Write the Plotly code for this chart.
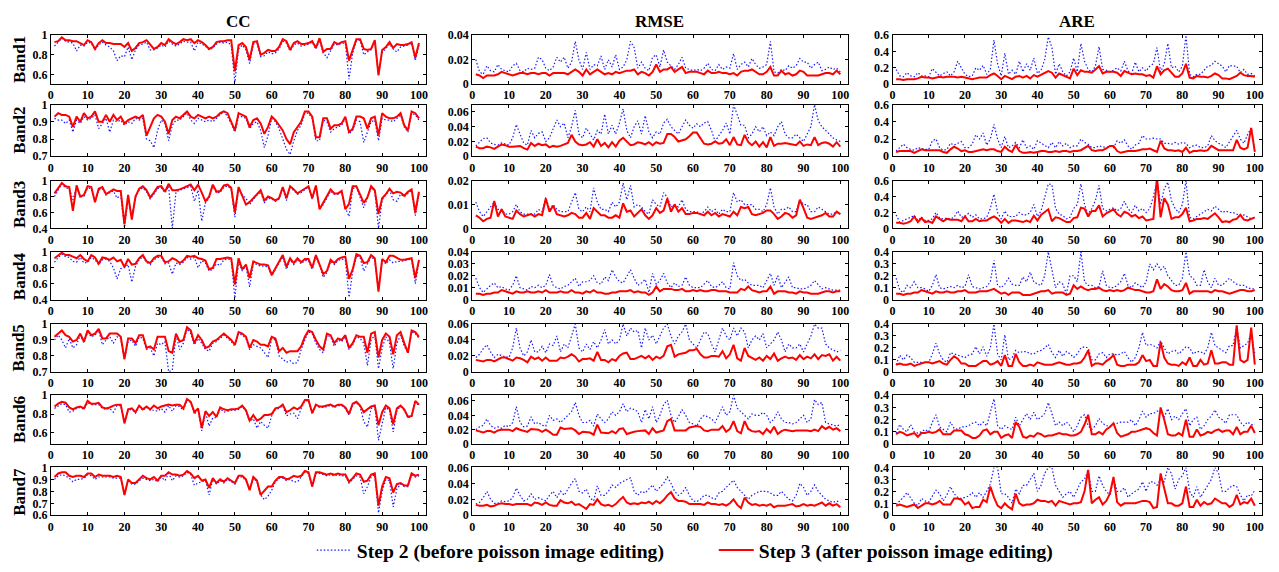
import plotly.graph_objects as go

FONT = "Liberation Serif, Times New Roman, serif"
x = list(range(1, 101))

column_titles = ["CC", "RMSE", "ARE"]
band_labels = ["Band1", "Band2", "Band3", "Band4", "Band5", "Band6", "Band7"]
legend_step2 = "Step 2 (before poisson image editing)"
legend_step3 = "Step 3 (after poisson image editing)"
x_ticks = list(range(0, 101, 10))

# ---------------- CC ----------------
cc1_s3 = [0.93,0.94,0.98,0.95,0.95,0.94,0.94,0.92,0.90,0.95,
          0.93,0.86,0.92,0.95,0.92,0.92,0.91,0.91,0.91,0.88,
          0.92,0.84,0.87,0.92,0.93,0.95,0.90,0.86,0.88,0.92,
          0.90,0.96,0.93,0.91,0.93,0.96,0.95,0.96,0.92,0.95,
          0.93,0.90,0.86,0.88,0.93,0.94,0.94,0.95,0.95,0.63,
          0.90,0.92,0.88,0.75,0.93,0.94,0.80,0.82,0.85,0.84,
          0.84,0.88,0.96,0.94,0.85,0.92,0.94,0.91,0.91,0.92,
          0.94,0.87,0.97,0.83,0.86,0.86,0.93,0.91,0.93,0.94,
          0.74,0.86,0.96,0.96,0.86,0.85,0.86,0.95,0.59,0.85,
          0.88,0.93,0.87,0.91,0.90,0.90,0.91,0.93,0.77,0.92]
cc1_s2 = [0.89,0.93,0.97,0.94,0.93,0.92,0.84,0.90,0.89,0.93,
          0.92,0.85,0.90,0.93,0.90,0.88,0.84,0.74,0.79,0.78,
          0.88,0.75,0.85,0.90,0.91,0.93,0.85,0.85,0.87,0.90,
          0.88,0.94,0.91,0.89,0.91,0.94,0.93,0.93,0.84,0.93,
          0.91,0.89,0.85,0.87,0.91,0.93,0.92,0.93,0.90,0.52,
          0.86,0.90,0.85,0.71,0.91,0.92,0.78,0.79,0.83,0.81,
          0.82,0.86,0.94,0.92,0.84,0.90,0.92,0.89,0.90,0.91,
          0.93,0.86,0.95,0.82,0.77,0.84,0.91,0.90,0.92,0.92,
          0.55,0.82,0.94,0.95,0.80,0.83,0.85,0.93,0.60,0.82,
          0.86,0.91,0.86,0.83,0.88,0.89,0.90,0.92,0.74,0.90]
cc2_s3 = [0.93,0.95,0.94,0.94,0.93,0.87,0.93,0.90,0.95,0.92,
          0.93,0.96,0.90,0.90,0.94,0.90,0.94,0.91,0.93,0.89,
          0.91,0.92,0.93,0.92,0.94,0.82,0.87,0.92,0.94,0.93,
          0.90,0.83,0.91,0.93,0.92,0.94,0.96,0.93,0.92,0.94,
          0.93,0.92,0.93,0.92,0.93,0.95,0.96,0.95,0.90,0.85,
          0.95,0.94,0.93,0.87,0.91,0.92,0.89,0.83,0.87,0.93,
          0.91,0.88,0.85,0.80,0.77,0.84,0.87,0.90,0.96,0.96,
          0.93,0.81,0.81,0.92,0.92,0.86,0.88,0.88,0.89,0.93,
          0.84,0.86,0.93,0.93,0.92,0.86,0.92,0.93,0.82,0.95,
          0.93,0.92,0.92,0.93,0.95,0.88,0.85,0.96,0.95,0.92]
cc2_s2 = [0.92,0.91,0.91,0.89,0.91,0.84,0.91,0.89,0.93,0.91,
          0.92,0.94,0.86,0.89,0.92,0.84,0.91,0.90,0.91,0.88,
          0.90,0.89,0.92,0.91,0.92,0.80,0.79,0.75,0.85,0.91,
          0.89,0.79,0.88,0.91,0.91,0.93,0.95,0.91,0.89,0.92,
          0.91,0.90,0.91,0.90,0.92,0.94,0.96,0.93,0.89,0.84,
          0.93,0.93,0.92,0.86,0.89,0.90,0.85,0.75,0.82,0.92,
          0.90,0.86,0.80,0.74,0.71,0.79,0.85,0.88,0.95,0.95,
          0.92,0.79,0.79,0.91,0.90,0.84,0.86,0.87,0.88,0.92,
          0.83,0.85,0.91,0.90,0.78,0.84,0.90,0.91,0.79,0.92,
          0.91,0.91,0.90,0.92,0.94,0.87,0.84,0.95,0.94,0.91]
cc3_s3 = [0.84,0.90,0.97,0.93,0.92,0.62,0.94,0.80,0.82,0.93,
          0.92,0.73,0.90,0.92,0.83,0.86,0.89,0.87,0.87,0.45,
          0.82,0.51,0.80,0.90,0.93,0.88,0.79,0.85,0.92,0.93,
          0.86,0.96,0.88,0.88,0.89,0.91,0.93,0.95,0.88,0.95,
          0.85,0.74,0.80,0.95,0.86,0.87,0.94,0.95,0.91,0.60,
          0.92,0.80,0.70,0.73,0.78,0.84,0.88,0.75,0.80,0.78,
          0.75,0.78,0.92,0.78,0.93,0.89,0.84,0.87,0.90,0.93,
          0.78,0.94,0.64,0.72,0.80,0.89,0.84,0.84,0.87,0.64,
          0.71,0.93,0.93,0.82,0.72,0.79,0.93,0.88,0.58,0.78,
          0.83,0.90,0.84,0.86,0.85,0.81,0.86,0.89,0.60,0.86]
cc3_s2 = [0.80,0.88,0.96,0.91,0.90,0.76,0.92,0.80,0.80,0.91,
          0.90,0.74,0.88,0.90,0.82,0.85,0.87,0.78,0.82,0.41,
          0.78,0.55,0.79,0.88,0.91,0.86,0.77,0.83,0.90,0.91,
          0.85,0.93,0.40,0.86,0.88,0.90,0.92,0.93,0.74,0.88,
          0.49,0.72,0.78,0.93,0.85,0.85,0.92,0.93,0.89,0.54,
          0.90,0.82,0.78,0.70,0.76,0.82,0.86,0.72,0.78,0.77,
          0.74,0.77,0.90,0.75,0.92,0.87,0.83,0.85,0.89,0.92,
          0.77,0.92,0.66,0.70,0.78,0.87,0.83,0.83,0.86,0.66,
          0.55,0.90,0.92,0.80,0.66,0.78,0.91,0.87,0.40,0.76,
          0.82,0.88,0.76,0.74,0.83,0.80,0.84,0.88,0.56,0.84]
cc4_s3 = [0.92,0.95,0.99,0.96,0.96,0.94,0.92,0.96,0.91,0.88,
          0.96,0.93,0.85,0.93,0.92,0.90,0.93,0.88,0.90,0.81,
          0.91,0.84,0.85,0.92,0.96,0.88,0.86,0.92,0.95,0.95,
          0.87,0.88,0.92,0.90,0.86,0.89,0.95,0.94,0.95,0.92,
          0.91,0.89,0.78,0.80,0.91,0.91,0.92,0.93,0.92,0.59,
          0.92,0.78,0.84,0.67,0.88,0.86,0.84,0.84,0.83,0.71,
          0.80,0.88,0.96,0.81,0.92,0.86,0.92,0.87,0.91,0.91,
          0.80,0.96,0.85,0.72,0.76,0.90,0.86,0.91,0.93,0.94,
          0.66,0.78,0.97,0.95,0.86,0.87,0.96,0.92,0.50,0.91,
          0.87,0.95,0.95,0.92,0.90,0.90,0.91,0.92,0.67,0.90]
cc4_s2 = [0.87,0.93,0.97,0.94,0.93,0.88,0.87,0.93,0.86,0.87,
          0.93,0.90,0.84,0.90,0.91,0.88,0.80,0.66,0.79,0.80,
          0.84,0.62,0.82,0.90,0.94,0.87,0.84,0.90,0.93,0.93,
          0.85,0.86,0.72,0.86,0.84,0.87,0.93,0.91,0.93,0.80,
          0.89,0.86,0.76,0.78,0.85,0.83,0.90,0.91,0.90,0.42,
          0.88,0.76,0.83,0.56,0.86,0.84,0.82,0.82,0.81,0.70,
          0.79,0.86,0.94,0.78,0.90,0.84,0.90,0.85,0.89,0.89,
          0.78,0.94,0.83,0.68,0.74,0.88,0.84,0.89,0.91,0.90,
          0.43,0.75,0.95,0.93,0.76,0.85,0.94,0.90,0.52,0.89,
          0.85,0.90,0.86,0.88,0.88,0.89,0.90,0.91,0.60,0.88]
cc5_s3 = [0.92,0.94,0.96,0.93,0.92,0.89,0.90,0.94,0.89,0.96,
          0.93,0.94,0.97,0.91,0.91,0.94,0.94,0.94,0.92,0.78,
          0.91,0.91,0.88,0.93,0.93,0.85,0.86,0.84,0.92,0.92,
          0.92,0.83,0.82,0.94,0.89,0.90,0.98,0.96,0.88,0.93,
          0.90,0.85,0.86,0.89,0.90,0.92,0.94,0.92,0.90,0.87,
          0.95,0.94,0.92,0.85,0.90,0.89,0.87,0.87,0.86,0.92,
          0.91,0.83,0.85,0.82,0.83,0.83,0.83,0.86,0.92,0.96,
          0.95,0.90,0.86,0.84,0.94,0.93,0.88,0.91,0.90,0.93,
          0.85,0.88,0.93,0.92,0.92,0.82,0.94,0.95,0.79,0.90,
          0.94,0.92,0.81,0.93,0.95,0.88,0.82,0.96,0.95,0.92]
cc5_s2 = [0.90,0.93,0.90,0.85,0.91,0.85,0.87,0.93,0.88,0.95,
          0.92,0.93,0.96,0.87,0.90,0.92,0.88,0.92,0.91,0.78,
          0.89,0.90,0.86,0.92,0.91,0.84,0.85,0.80,0.88,0.87,
          0.89,0.70,0.71,0.93,0.84,0.88,0.97,0.94,0.87,0.91,
          0.88,0.84,0.83,0.88,0.89,0.91,0.93,0.91,0.89,0.86,
          0.94,0.93,0.91,0.84,0.87,0.86,0.85,0.82,0.79,0.91,
          0.90,0.80,0.78,0.76,0.77,0.75,0.76,0.84,0.90,0.95,
          0.94,0.88,0.84,0.82,0.93,0.92,0.86,0.90,0.89,0.92,
          0.84,0.87,0.92,0.91,0.88,0.74,0.90,0.93,0.72,0.85,
          0.92,0.88,0.72,0.88,0.93,0.86,0.82,0.95,0.94,0.91]
cc6_s3 = [0.88,0.91,0.93,0.92,0.87,0.85,0.87,0.88,0.86,0.94,
          0.91,0.91,0.92,0.87,0.86,0.87,0.89,0.90,0.90,0.70,
          0.85,0.86,0.82,0.89,0.85,0.88,0.85,0.89,0.86,0.88,
          0.89,0.90,0.89,0.90,0.90,0.86,0.96,0.93,0.82,0.86,
          0.65,0.83,0.78,0.82,0.77,0.87,0.85,0.84,0.85,0.85,
          0.86,0.89,0.84,0.73,0.79,0.73,0.75,0.79,0.79,0.80,
          0.86,0.87,0.90,0.82,0.84,0.87,0.85,0.88,0.95,0.95,
          0.81,0.90,0.88,0.88,0.89,0.90,0.88,0.90,0.90,0.87,
          0.80,0.91,0.93,0.89,0.82,0.85,0.88,0.89,0.68,0.82,
          0.89,0.86,0.69,0.86,0.89,0.85,0.77,0.78,0.94,0.90]
cc6_s2 = [0.86,0.89,0.91,0.90,0.82,0.83,0.86,0.87,0.85,0.92,
          0.90,0.90,0.90,0.86,0.85,0.86,0.82,0.89,0.89,0.72,
          0.84,0.85,0.81,0.88,0.84,0.87,0.84,0.84,0.83,0.86,
          0.82,0.89,0.83,0.89,0.88,0.84,0.95,0.92,0.80,0.84,
          0.62,0.82,0.67,0.76,0.76,0.86,0.82,0.83,0.84,0.84,
          0.85,0.88,0.83,0.72,0.75,0.65,0.72,0.68,0.65,0.78,
          0.85,0.86,0.89,0.78,0.80,0.81,0.75,0.86,0.94,0.94,
          0.80,0.89,0.87,0.87,0.88,0.89,0.87,0.89,0.89,0.86,
          0.79,0.90,0.92,0.88,0.72,0.66,0.86,0.88,0.52,0.70,
          0.87,0.84,0.61,0.84,0.88,0.84,0.76,0.77,0.93,0.89]
cc7_s3 = [0.92,0.95,0.96,0.96,0.93,0.92,0.93,0.93,0.92,0.95,
          0.95,0.92,0.94,0.93,0.93,0.93,0.92,0.93,0.92,0.77,
          0.90,0.87,0.87,0.90,0.93,0.91,0.90,0.92,0.89,0.93,
          0.93,0.96,0.94,0.94,0.93,0.94,0.97,0.95,0.91,0.93,
          0.89,0.90,0.83,0.91,0.87,0.90,0.88,0.91,0.89,0.87,
          0.93,0.93,0.90,0.81,0.92,0.89,0.77,0.81,0.84,0.84,
          0.89,0.92,0.92,0.90,0.91,0.93,0.92,0.93,0.97,0.96,
          0.84,0.96,0.96,0.95,0.94,0.95,0.94,0.95,0.94,0.94,
          0.88,0.91,0.95,0.94,0.88,0.89,0.94,0.95,0.68,0.84,
          0.92,0.91,0.79,0.86,0.87,0.85,0.85,0.95,0.93,0.94]
cc7_s2 = [0.90,0.93,0.94,0.93,0.91,0.88,0.90,0.90,0.91,0.94,
          0.93,0.90,0.92,0.92,0.92,0.92,0.91,0.91,0.91,0.78,
          0.89,0.86,0.86,0.89,0.91,0.90,0.89,0.90,0.88,0.92,
          0.89,0.95,0.89,0.93,0.92,0.93,0.96,0.94,0.85,0.87,
          0.88,0.89,0.77,0.90,0.86,0.89,0.87,0.90,0.88,0.86,
          0.92,0.92,0.89,0.81,0.91,0.88,0.77,0.73,0.76,0.81,
          0.88,0.91,0.91,0.89,0.90,0.88,0.88,0.92,0.96,0.95,
          0.84,0.95,0.95,0.94,0.93,0.94,0.93,0.94,0.93,0.93,
          0.87,0.90,0.93,0.92,0.78,0.84,0.92,0.94,0.62,0.80,
          0.90,0.89,0.67,0.82,0.86,0.84,0.84,0.94,0.92,0.93]

# ---------------- RMSE ----------------
rmse1_s3 = [0.008,0.007,0.005,0.007,0.007,0.007,0.008,0.010,0.009,0.008,
            0.007,0.008,0.009,0.009,0.008,0.009,0.009,0.008,0.009,0.009,
            0.007,0.009,0.009,0.009,0.009,0.008,0.010,0.012,0.010,0.007,
            0.012,0.008,0.010,0.012,0.010,0.008,0.009,0.008,0.010,0.009,
            0.010,0.011,0.011,0.012,0.008,0.010,0.009,0.007,0.010,0.016,
            0.010,0.012,0.012,0.014,0.010,0.012,0.014,0.009,0.010,0.010,
            0.010,0.009,0.008,0.011,0.009,0.009,0.010,0.009,0.009,0.008,
            0.009,0.007,0.010,0.011,0.011,0.012,0.010,0.008,0.008,0.010,
            0.014,0.007,0.007,0.011,0.008,0.009,0.007,0.008,0.011,0.010,
            0.007,0.007,0.007,0.007,0.008,0.009,0.009,0.008,0.011,0.008]
rmse1_s2 = [0.020,0.010,0.008,0.015,0.011,0.010,0.016,0.012,0.011,0.010,
            0.015,0.017,0.011,0.010,0.013,0.012,0.013,0.022,0.020,0.013,
            0.011,0.014,0.022,0.018,0.022,0.013,0.018,0.035,0.020,0.012,
            0.026,0.012,0.016,0.015,0.023,0.012,0.020,0.014,0.024,0.012,
            0.014,0.020,0.035,0.030,0.013,0.018,0.013,0.011,0.022,0.024,
            0.014,0.028,0.018,0.015,0.012,0.016,0.022,0.013,0.012,0.011,
            0.012,0.011,0.013,0.017,0.012,0.011,0.016,0.012,0.014,0.013,
            0.025,0.012,0.016,0.018,0.014,0.021,0.016,0.013,0.014,0.016,
            0.035,0.010,0.009,0.012,0.011,0.015,0.013,0.015,0.021,0.018,
            0.018,0.013,0.016,0.018,0.011,0.012,0.014,0.012,0.013,0.010]
rmse2_s3 = [0.013,0.011,0.011,0.013,0.012,0.010,0.013,0.016,0.015,0.013,
            0.013,0.014,0.014,0.011,0.009,0.018,0.014,0.017,0.015,0.016,
            0.012,0.014,0.013,0.014,0.016,0.018,0.029,0.020,0.016,0.015,
            0.016,0.019,0.013,0.023,0.014,0.018,0.012,0.019,0.013,0.021,
            0.025,0.020,0.015,0.016,0.019,0.018,0.016,0.019,0.015,0.019,
            0.017,0.018,0.030,0.030,0.026,0.020,0.021,0.023,0.027,0.032,
            0.032,0.024,0.017,0.016,0.017,0.020,0.017,0.018,0.023,0.015,
            0.026,0.016,0.015,0.029,0.019,0.015,0.020,0.013,0.019,0.012,
            0.026,0.014,0.017,0.017,0.018,0.017,0.016,0.015,0.020,0.014,
            0.016,0.015,0.026,0.015,0.018,0.019,0.017,0.013,0.019,0.013]
rmse2_s2 = [0.014,0.019,0.024,0.025,0.018,0.016,0.015,0.018,0.016,0.015,
            0.025,0.043,0.030,0.018,0.015,0.035,0.025,0.031,0.033,0.020,
            0.025,0.038,0.049,0.040,0.045,0.025,0.040,0.062,0.030,0.025,
            0.038,0.030,0.022,0.035,0.030,0.057,0.030,0.042,0.030,0.045,
            0.064,0.035,0.025,0.040,0.048,0.030,0.055,0.033,0.025,0.033,
            0.030,0.045,0.050,0.040,0.035,0.030,0.040,0.049,0.042,0.038,
            0.044,0.040,0.045,0.047,0.035,0.020,0.028,0.035,0.045,0.030,
            0.070,0.055,0.042,0.042,0.025,0.030,0.040,0.033,0.040,0.028,
            0.033,0.028,0.040,0.047,0.030,0.025,0.025,0.030,0.025,0.020,
            0.030,0.040,0.070,0.048,0.040,0.035,0.030,0.025,0.022,0.020]
rmse3_s3 = [0.0055,0.0045,0.003,0.004,0.0045,0.0115,0.005,0.008,0.005,0.0045,
            0.004,0.0075,0.006,0.005,0.0055,0.006,0.005,0.006,0.0055,0.0125,
            0.007,0.0095,0.006,0.0055,0.005,0.0055,0.0065,0.006,0.0045,0.0045,
            0.0065,0.004,0.0085,0.007,0.0055,0.0055,0.0045,0.0045,0.0055,0.0045,
            0.0105,0.007,0.0075,0.005,0.0065,0.008,0.0055,0.004,0.0055,0.0085,
            0.0065,0.0075,0.0125,0.007,0.010,0.007,0.0085,0.006,0.006,0.0065,
            0.0065,0.006,0.0055,0.007,0.0055,0.0065,0.005,0.006,0.0055,0.005,
            0.007,0.0055,0.009,0.0085,0.009,0.006,0.0055,0.006,0.0065,0.0075,
            0.0075,0.006,0.004,0.005,0.0065,0.006,0.0045,0.0055,0.012,0.0085,
            0.0045,0.004,0.0045,0.005,0.0055,0.0065,0.005,0.005,0.007,0.006]
rmse3_s2 = [0.011,0.007,0.005,0.007,0.009,0.011,0.008,0.008,0.006,0.006,
            0.007,0.010,0.007,0.006,0.006,0.006,0.006,0.008,0.007,0.013,
            0.008,0.010,0.008,0.007,0.007,0.007,0.011,0.015,0.008,0.007,
            0.009,0.007,0.017,0.011,0.008,0.008,0.007,0.011,0.009,0.011,
            0.019,0.012,0.018,0.009,0.010,0.009,0.007,0.006,0.012,0.010,
            0.009,0.015,0.013,0.009,0.010,0.009,0.012,0.008,0.007,0.007,
            0.007,0.006,0.007,0.009,0.007,0.008,0.006,0.008,0.007,0.007,
            0.015,0.011,0.012,0.010,0.010,0.010,0.008,0.008,0.007,0.010,
            0.017,0.009,0.006,0.008,0.008,0.009,0.007,0.007,0.012,0.010,
            0.010,0.007,0.007,0.009,0.008,0.007,0.006,0.006,0.007,0.006]
rmse4_s3 = [0.005,0.005,0.004,0.005,0.005,0.006,0.006,0.008,0.007,0.006,
            0.005,0.007,0.006,0.006,0.007,0.006,0.006,0.007,0.006,0.008,
            0.006,0.006,0.006,0.007,0.006,0.006,0.008,0.006,0.006,0.005,
            0.007,0.006,0.008,0.006,0.006,0.005,0.005,0.006,0.006,0.007,
            0.007,0.007,0.008,0.006,0.007,0.006,0.006,0.004,0.006,0.011,
            0.007,0.009,0.009,0.009,0.008,0.008,0.009,0.007,0.007,0.008,
            0.007,0.008,0.007,0.007,0.008,0.008,0.007,0.007,0.007,0.006,
            0.006,0.006,0.009,0.008,0.011,0.008,0.007,0.006,0.007,0.007,
            0.011,0.005,0.007,0.007,0.007,0.006,0.006,0.005,0.007,0.006,
            0.006,0.005,0.005,0.005,0.006,0.007,0.007,0.006,0.007,0.007]
rmse4_s2 = [0.018,0.010,0.006,0.009,0.012,0.014,0.010,0.011,0.009,0.008,
            0.012,0.020,0.010,0.009,0.008,0.011,0.010,0.012,0.010,0.012,
            0.021,0.012,0.010,0.009,0.011,0.012,0.015,0.018,0.011,0.015,
            0.015,0.016,0.020,0.014,0.013,0.019,0.016,0.025,0.019,0.015,
            0.014,0.020,0.025,0.018,0.012,0.014,0.017,0.006,0.022,0.013,
            0.016,0.022,0.014,0.010,0.014,0.011,0.012,0.019,0.012,0.010,
            0.010,0.010,0.013,0.016,0.011,0.010,0.012,0.015,0.010,0.009,
            0.031,0.020,0.016,0.017,0.014,0.012,0.012,0.012,0.010,0.016,
            0.022,0.012,0.020,0.010,0.014,0.019,0.010,0.010,0.009,0.009,
            0.010,0.012,0.016,0.012,0.009,0.010,0.009,0.008,0.008,0.008]
rmse5_s3 = [0.015,0.014,0.013,0.015,0.015,0.013,0.016,0.018,0.018,0.016,
            0.014,0.018,0.017,0.015,0.012,0.019,0.016,0.018,0.014,0.018,
            0.014,0.014,0.014,0.018,0.017,0.019,0.022,0.019,0.013,0.016,
            0.016,0.017,0.014,0.025,0.015,0.015,0.012,0.016,0.014,0.020,
            0.023,0.024,0.016,0.016,0.018,0.020,0.017,0.020,0.015,0.019,
            0.017,0.020,0.032,0.034,0.019,0.022,0.023,0.024,0.027,0.027,
            0.029,0.022,0.018,0.018,0.020,0.020,0.019,0.026,0.017,0.022,
            0.034,0.017,0.014,0.030,0.020,0.017,0.015,0.018,0.014,0.020,
            0.016,0.023,0.014,0.017,0.019,0.017,0.018,0.015,0.021,0.016,
            0.019,0.017,0.022,0.016,0.021,0.020,0.022,0.014,0.019,0.014]
rmse5_s2 = [0.018,0.022,0.029,0.034,0.025,0.018,0.022,0.020,0.019,0.018,
            0.030,0.055,0.030,0.020,0.025,0.040,0.025,0.025,0.032,0.024,
            0.035,0.033,0.045,0.025,0.035,0.030,0.045,0.060,0.030,0.025,
            0.035,0.028,0.038,0.030,0.040,0.053,0.035,0.040,0.035,0.040,
            0.060,0.045,0.055,0.050,0.052,0.030,0.055,0.040,0.046,0.035,
            0.045,0.055,0.060,0.045,0.035,0.045,0.050,0.060,0.040,0.035,
            0.030,0.040,0.050,0.048,0.035,0.025,0.040,0.055,0.045,0.040,
            0.055,0.045,0.055,0.050,0.030,0.040,0.045,0.040,0.048,0.030,
            0.035,0.040,0.050,0.040,0.025,0.035,0.030,0.030,0.035,0.025,
            0.035,0.045,0.060,0.055,0.055,0.035,0.030,0.028,0.025,0.027]
rmse6_s3 = [0.019,0.018,0.016,0.018,0.018,0.016,0.019,0.020,0.020,0.020,
            0.018,0.022,0.020,0.019,0.017,0.021,0.020,0.020,0.017,0.020,
            0.017,0.013,0.013,0.023,0.021,0.021,0.022,0.019,0.014,0.017,
            0.017,0.016,0.013,0.027,0.016,0.015,0.015,0.018,0.015,0.021,
            0.022,0.014,0.016,0.017,0.018,0.018,0.019,0.014,0.022,0.016,
            0.018,0.019,0.032,0.035,0.019,0.019,0.020,0.019,0.023,0.024,
            0.025,0.024,0.019,0.018,0.020,0.020,0.020,0.025,0.017,0.021,
            0.032,0.018,0.015,0.032,0.021,0.018,0.017,0.018,0.014,0.021,
            0.016,0.024,0.014,0.018,0.020,0.019,0.018,0.019,0.019,0.020,
            0.019,0.018,0.020,0.018,0.025,0.021,0.024,0.020,0.022,0.018]
rmse6_s2 = [0.020,0.024,0.026,0.035,0.026,0.022,0.024,0.022,0.026,0.024,
            0.030,0.052,0.030,0.024,0.025,0.038,0.028,0.030,0.026,0.025,
            0.040,0.033,0.035,0.030,0.035,0.040,0.045,0.058,0.040,0.030,
            0.030,0.033,0.025,0.042,0.035,0.030,0.035,0.045,0.040,0.045,
            0.056,0.045,0.050,0.048,0.045,0.030,0.048,0.035,0.052,0.030,
            0.040,0.055,0.061,0.040,0.030,0.038,0.048,0.040,0.030,0.028,
            0.025,0.035,0.040,0.038,0.035,0.030,0.040,0.052,0.040,0.045,
            0.068,0.050,0.045,0.040,0.035,0.042,0.040,0.040,0.044,0.040,
            0.030,0.035,0.045,0.035,0.030,0.030,0.028,0.030,0.035,0.040,
            0.030,0.035,0.062,0.055,0.058,0.030,0.028,0.027,0.025,0.027]
rmse7_s3 = [0.013,0.012,0.012,0.013,0.011,0.012,0.014,0.015,0.014,0.014,
            0.013,0.014,0.014,0.014,0.014,0.012,0.016,0.015,0.013,0.016,
            0.013,0.012,0.012,0.019,0.016,0.015,0.017,0.013,0.014,0.011,
            0.008,0.014,0.013,0.020,0.014,0.012,0.013,0.011,0.014,0.019,
            0.023,0.016,0.014,0.015,0.014,0.016,0.015,0.017,0.014,0.018,
            0.015,0.019,0.025,0.029,0.021,0.018,0.018,0.017,0.014,0.014,
            0.014,0.014,0.013,0.016,0.014,0.014,0.013,0.014,0.012,0.015,
            0.020,0.013,0.009,0.022,0.016,0.013,0.014,0.012,0.013,0.012,
            0.014,0.010,0.012,0.012,0.012,0.013,0.014,0.011,0.012,0.014,
            0.012,0.013,0.012,0.014,0.016,0.012,0.015,0.012,0.014,0.010]
rmse7_s2 = [0.014,0.016,0.022,0.030,0.020,0.015,0.015,0.018,0.017,0.018,
            0.022,0.034,0.025,0.018,0.020,0.027,0.020,0.022,0.020,0.018,
            0.025,0.030,0.022,0.030,0.025,0.033,0.040,0.046,0.030,0.028,
            0.033,0.022,0.018,0.037,0.025,0.025,0.030,0.038,0.035,0.040,
            0.042,0.045,0.047,0.030,0.025,0.030,0.028,0.033,0.038,0.030,
            0.035,0.040,0.048,0.040,0.030,0.025,0.028,0.035,0.025,0.018,
            0.017,0.020,0.025,0.025,0.022,0.020,0.028,0.030,0.035,0.040,
            0.044,0.035,0.030,0.025,0.020,0.025,0.028,0.030,0.030,0.030,
            0.028,0.025,0.025,0.030,0.025,0.020,0.018,0.025,0.040,0.035,
            0.025,0.030,0.038,0.030,0.025,0.020,0.018,0.016,0.018,0.016]

# ---------------- ARE ----------------
are1_s3 = [0.06,0.06,0.05,0.06,0.06,0.06,0.07,0.09,0.08,0.08,
           0.07,0.08,0.09,0.08,0.09,0.09,0.09,0.08,0.09,0.08,
           0.07,0.06,0.07,0.08,0.08,0.08,0.11,0.13,0.10,0.06,
           0.10,0.08,0.06,0.09,0.10,0.08,0.10,0.07,0.11,0.09,
           0.11,0.14,0.16,0.14,0.08,0.13,0.11,0.08,0.07,0.19,
           0.11,0.17,0.15,0.15,0.14,0.18,0.22,0.13,0.15,0.15,
           0.15,0.14,0.10,0.16,0.14,0.12,0.13,0.12,0.12,0.10,
           0.11,0.08,0.22,0.12,0.17,0.19,0.14,0.09,0.09,0.13,
           0.25,0.08,0.07,0.10,0.09,0.09,0.08,0.10,0.13,0.11,
           0.07,0.07,0.06,0.08,0.10,0.14,0.11,0.10,0.10,0.09]
are1_s2 = [0.18,0.10,0.09,0.14,0.10,0.09,0.14,0.10,0.10,0.09,
           0.19,0.15,0.10,0.13,0.15,0.10,0.15,0.28,0.20,0.12,
           0.09,0.10,0.20,0.17,0.23,0.12,0.18,0.54,0.25,0.10,
           0.38,0.12,0.17,0.12,0.28,0.15,0.25,0.17,0.32,0.13,
           0.17,0.30,0.58,0.45,0.12,0.25,0.15,0.10,0.15,0.32,
           0.15,0.50,0.28,0.18,0.15,0.22,0.46,0.18,0.17,0.15,
           0.17,0.20,0.16,0.28,0.16,0.13,0.27,0.15,0.20,0.16,
           0.22,0.25,0.45,0.15,0.25,0.50,0.20,0.22,0.15,0.22,
           0.60,0.12,0.09,0.12,0.12,0.17,0.22,0.23,0.28,0.25,
           0.22,0.15,0.23,0.22,0.22,0.14,0.18,0.12,0.13,0.10]
are2_s3 = [0.05,0.06,0.06,0.06,0.06,0.04,0.06,0.08,0.07,0.07,
           0.07,0.07,0.07,0.05,0.04,0.08,0.11,0.09,0.06,0.07,
           0.05,0.05,0.06,0.07,0.08,0.07,0.08,0.08,0.06,0.05,
           0.11,0.07,0.05,0.13,0.06,0.04,0.04,0.05,0.04,0.05,
           0.06,0.06,0.05,0.05,0.06,0.05,0.06,0.06,0.05,0.06,
           0.06,0.07,0.10,0.12,0.07,0.06,0.07,0.07,0.09,0.12,
           0.12,0.06,0.04,0.05,0.06,0.06,0.06,0.07,0.08,0.08,
           0.09,0.07,0.05,0.18,0.09,0.07,0.07,0.06,0.07,0.05,
           0.10,0.04,0.06,0.06,0.07,0.06,0.07,0.12,0.09,0.07,
           0.07,0.07,0.07,0.07,0.19,0.10,0.08,0.10,0.33,0.05]
are2_s2 = [0.06,0.10,0.14,0.10,0.08,0.07,0.10,0.09,0.08,0.08,
           0.18,0.20,0.10,0.07,0.08,0.15,0.13,0.15,0.17,0.10,
           0.10,0.14,0.25,0.20,0.27,0.13,0.20,0.37,0.20,0.10,
           0.23,0.10,0.12,0.16,0.10,0.19,0.10,0.12,0.08,0.18,
           0.15,0.12,0.10,0.16,0.10,0.17,0.12,0.15,0.10,0.12,
           0.12,0.20,0.16,0.14,0.10,0.10,0.12,0.11,0.10,0.12,
           0.10,0.18,0.15,0.19,0.12,0.08,0.13,0.15,0.24,0.20,
           0.20,0.21,0.20,0.20,0.15,0.15,0.14,0.16,0.14,0.16,
           0.15,0.10,0.12,0.13,0.10,0.10,0.12,0.24,0.18,0.15,
           0.13,0.10,0.17,0.23,0.30,0.20,0.15,0.25,0.33,0.06]
are3_s3 = [0.07,0.07,0.06,0.07,0.09,0.15,0.08,0.13,0.08,0.09,
           0.07,0.15,0.12,0.09,0.12,0.11,0.11,0.11,0.09,0.15,
           0.09,0.09,0.12,0.09,0.10,0.10,0.13,0.15,0.12,0.07,
           0.12,0.07,0.10,0.10,0.09,0.08,0.10,0.08,0.16,0.10,
           0.17,0.21,0.24,0.09,0.14,0.13,0.11,0.08,0.08,0.13,
           0.14,0.26,0.25,0.15,0.22,0.22,0.29,0.15,0.19,0.21,
           0.24,0.18,0.15,0.21,0.19,0.15,0.17,0.13,0.15,0.10,
           0.11,0.12,0.64,0.14,0.38,0.30,0.12,0.14,0.14,0.18,
           0.26,0.09,0.10,0.12,0.12,0.13,0.12,0.15,0.19,0.14,
           0.08,0.09,0.08,0.11,0.12,0.17,0.11,0.10,0.12,0.14]
are3_s2 = [0.17,0.08,0.10,0.12,0.13,0.16,0.10,0.14,0.10,0.10,
           0.12,0.20,0.13,0.12,0.13,0.12,0.14,0.22,0.14,0.15,
           0.19,0.14,0.17,0.12,0.12,0.14,0.25,0.43,0.20,0.12,
           0.22,0.15,0.15,0.15,0.20,0.17,0.17,0.20,0.30,0.15,
           0.22,0.40,0.56,0.55,0.25,0.18,0.16,0.12,0.14,0.25,
           0.30,0.56,0.30,0.18,0.25,0.35,0.54,0.25,0.22,0.24,
           0.26,0.22,0.25,0.34,0.25,0.20,0.29,0.22,0.25,0.20,
           0.25,0.40,0.60,0.30,0.50,0.58,0.35,0.25,0.20,0.30,
           0.60,0.14,0.12,0.15,0.18,0.20,0.24,0.22,0.28,0.24,
           0.20,0.22,0.20,0.20,0.18,0.16,0.17,0.14,0.12,0.13]
are4_s3 = [0.05,0.05,0.04,0.05,0.05,0.06,0.06,0.08,0.07,0.06,
           0.05,0.07,0.06,0.06,0.07,0.06,0.06,0.07,0.07,0.08,
           0.06,0.06,0.06,0.07,0.07,0.07,0.08,0.09,0.07,0.05,
           0.06,0.04,0.06,0.06,0.06,0.04,0.04,0.04,0.05,0.06,
           0.07,0.07,0.08,0.05,0.06,0.06,0.06,0.04,0.05,0.12,
           0.09,0.11,0.09,0.08,0.09,0.09,0.10,0.08,0.07,0.08,
           0.07,0.08,0.07,0.08,0.10,0.09,0.08,0.08,0.07,0.06,
           0.06,0.07,0.17,0.09,0.13,0.11,0.08,0.07,0.07,0.08,
           0.14,0.05,0.07,0.07,0.07,0.07,0.07,0.06,0.08,0.07,
           0.07,0.06,0.05,0.06,0.07,0.08,0.08,0.07,0.07,0.08]
are4_s2 = [0.18,0.08,0.06,0.12,0.10,0.15,0.10,0.10,0.09,0.07,
           0.12,0.21,0.10,0.09,0.10,0.11,0.10,0.12,0.10,0.11,
           0.21,0.11,0.10,0.09,0.10,0.11,0.15,0.33,0.12,0.10,
           0.13,0.18,0.13,0.12,0.12,0.19,0.15,0.23,0.15,0.13,
           0.12,0.20,0.40,0.25,0.10,0.15,0.13,0.05,0.20,0.20,
           0.15,0.40,0.15,0.12,0.12,0.10,0.11,0.24,0.12,0.10,
           0.10,0.12,0.15,0.22,0.12,0.10,0.14,0.12,0.10,0.15,
           0.30,0.25,0.30,0.25,0.28,0.20,0.16,0.12,0.12,0.18,
           0.40,0.20,0.18,0.12,0.12,0.25,0.15,0.10,0.18,0.12,
           0.12,0.15,0.18,0.15,0.13,0.12,0.12,0.10,0.09,0.09]
are5_s3 = [0.06,0.07,0.06,0.06,0.07,0.05,0.06,0.07,0.08,0.08,
           0.07,0.08,0.09,0.07,0.06,0.10,0.13,0.11,0.07,0.07,
           0.05,0.05,0.05,0.07,0.09,0.09,0.06,0.07,0.09,0.05,
           0.14,0.05,0.05,0.15,0.08,0.05,0.05,0.06,0.05,0.08,
           0.07,0.06,0.06,0.06,0.07,0.08,0.07,0.06,0.06,0.07,
           0.07,0.08,0.12,0.18,0.05,0.07,0.07,0.06,0.09,0.11,
           0.14,0.06,0.05,0.05,0.06,0.06,0.06,0.08,0.14,0.09,
           0.10,0.05,0.05,0.25,0.12,0.07,0.06,0.06,0.05,0.08,
           0.06,0.12,0.05,0.05,0.10,0.06,0.07,0.18,0.07,0.07,
           0.08,0.08,0.06,0.06,0.39,0.10,0.08,0.10,0.37,0.06]
are5_s2 = [0.06,0.14,0.10,0.14,0.12,0.08,0.08,0.08,0.08,0.08,
           0.15,0.24,0.15,0.10,0.08,0.16,0.15,0.14,0.13,0.12,
           0.14,0.15,0.21,0.15,0.21,0.13,0.20,0.40,0.15,0.10,
           0.31,0.10,0.12,0.18,0.16,0.17,0.17,0.15,0.15,0.17,
           0.18,0.20,0.23,0.16,0.12,0.18,0.13,0.17,0.15,0.12,
           0.15,0.20,0.21,0.20,0.10,0.10,0.15,0.16,0.12,0.15,
           0.15,0.14,0.15,0.17,0.12,0.08,0.12,0.20,0.33,0.22,
           0.23,0.22,0.20,0.26,0.20,0.15,0.17,0.18,0.15,0.18,
           0.21,0.20,0.15,0.17,0.17,0.15,0.20,0.33,0.22,0.20,
           0.18,0.16,0.22,0.22,0.38,0.20,0.22,0.24,0.32,0.15]
are6_s3 = [0.08,0.10,0.09,0.07,0.08,0.09,0.06,0.09,0.09,0.10,
           0.09,0.10,0.12,0.08,0.08,0.08,0.11,0.11,0.11,0.08,
           0.07,0.05,0.05,0.07,0.11,0.12,0.08,0.10,0.10,0.05,
           0.07,0.08,0.05,0.18,0.14,0.06,0.05,0.07,0.06,0.09,
           0.08,0.06,0.07,0.07,0.08,0.09,0.08,0.08,0.07,0.07,
           0.08,0.10,0.16,0.24,0.08,0.08,0.10,0.08,0.12,0.14,
           0.17,0.09,0.06,0.07,0.08,0.10,0.10,0.11,0.12,0.13,
           0.12,0.09,0.07,0.30,0.20,0.08,0.07,0.07,0.09,0.07,
           0.20,0.06,0.06,0.12,0.07,0.08,0.10,0.09,0.11,0.12,
           0.10,0.11,0.11,0.08,0.14,0.08,0.10,0.10,0.15,0.09]
are6_s2 = [0.09,0.16,0.12,0.10,0.16,0.10,0.09,0.10,0.12,0.10,
           0.18,0.24,0.14,0.12,0.10,0.18,0.13,0.12,0.14,0.14,
           0.15,0.17,0.18,0.15,0.18,0.15,0.25,0.37,0.15,0.12,
           0.15,0.13,0.12,0.22,0.15,0.20,0.25,0.20,0.26,0.20,
           0.22,0.25,0.34,0.25,0.15,0.18,0.15,0.18,0.15,0.10,
           0.15,0.22,0.24,0.15,0.12,0.15,0.21,0.17,0.15,0.15,
           0.16,0.17,0.18,0.18,0.18,0.20,0.15,0.20,0.27,0.22,
           0.25,0.25,0.27,0.27,0.22,0.29,0.20,0.23,0.20,0.25,
           0.29,0.15,0.20,0.22,0.12,0.15,0.20,0.23,0.28,0.22,
           0.20,0.17,0.24,0.24,0.24,0.18,0.15,0.18,0.16,0.16]
are7_s3 = [0.08,0.09,0.08,0.07,0.08,0.09,0.06,0.08,0.10,0.10,
           0.09,0.10,0.12,0.09,0.09,0.09,0.14,0.14,0.13,0.09,
           0.11,0.06,0.07,0.07,0.13,0.11,0.24,0.15,0.08,0.06,
           0.10,0.07,0.05,0.18,0.10,0.08,0.09,0.09,0.10,0.13,
           0.12,0.12,0.11,0.12,0.08,0.12,0.11,0.10,0.09,0.10,
           0.10,0.11,0.20,0.38,0.10,0.13,0.15,0.09,0.12,0.18,
           0.32,0.11,0.08,0.10,0.10,0.10,0.10,0.11,0.12,0.12,
           0.11,0.06,0.07,0.35,0.22,0.10,0.10,0.08,0.08,0.10,
           0.24,0.07,0.07,0.13,0.08,0.11,0.09,0.10,0.14,0.12,
           0.10,0.10,0.07,0.09,0.17,0.09,0.11,0.10,0.14,0.08]
are7_s2 = [0.09,0.12,0.15,0.19,0.15,0.10,0.08,0.14,0.12,0.11,
           0.16,0.21,0.18,0.12,0.17,0.24,0.18,0.15,0.14,0.15,
           0.16,0.19,0.15,0.19,0.15,0.20,0.26,0.40,0.40,0.18,
           0.18,0.15,0.10,0.22,0.18,0.25,0.25,0.30,0.35,0.20,
           0.25,0.35,0.40,0.40,0.25,0.20,0.15,0.18,0.20,0.15,
           0.22,0.28,0.30,0.38,0.20,0.20,0.33,0.25,0.20,0.17,
           0.30,0.20,0.20,0.23,0.15,0.18,0.20,0.22,0.28,0.20,
           0.28,0.28,0.25,0.30,0.28,0.40,0.35,0.22,0.30,0.33,
           0.40,0.20,0.15,0.24,0.15,0.20,0.25,0.30,0.40,0.35,
           0.20,0.20,0.23,0.25,0.24,0.17,0.12,0.17,0.16,0.21]

cc_step2 = [cc1_s2, cc2_s2, cc3_s2, cc4_s2, cc5_s2, cc6_s2, cc7_s2]
cc_step3 = [cc1_s3, cc2_s3, cc3_s3, cc4_s3, cc5_s3, cc6_s3, cc7_s3]
rmse_step2 = [rmse1_s2, rmse2_s2, rmse3_s2, rmse4_s2, rmse5_s2, rmse6_s2, rmse7_s2]
rmse_step3 = [rmse1_s3, rmse2_s3, rmse3_s3, rmse4_s3, rmse5_s3, rmse6_s3, rmse7_s3]
are_step2 = [are1_s2, are2_s2, are3_s2, are4_s2, are5_s2, are6_s2, are7_s2]
are_step3 = [are1_s3, are2_s3, are3_s3, are4_s3, are5_s3, are6_s3, are7_s3]

cc_ranges = [(0.5, 1), (0.7, 1), (0.4, 1), (0.4, 1), (0.7, 1), (0.48, 1), (0.6, 1)]
cc_ticks = [[0.6, 0.8, 1], [0.7, 0.8, 0.9, 1], [0.4, 0.6, 0.8, 1], [0.4, 0.6, 0.8, 1],
            [0.7, 0.8, 0.9, 1], [0.6, 0.8, 1], [0.6, 0.7, 0.8, 0.9, 1]]
rmse_ranges = [(0, 0.04), (0, 0.07), (0, 0.02), (0, 0.04), (0, 0.06), (0, 0.068), (0, 0.06)]
rmse_ticks = [[0, 0.02, 0.04], [0, 0.02, 0.04, 0.06], [0, 0.01, 0.02], [0, 0.01, 0.02, 0.03, 0.04],
              [0, 0.02, 0.04, 0.06], [0, 0.02, 0.04, 0.06], [0, 0.02, 0.04, 0.06]]
are_ranges = [(0, 0.6), (0, 0.6), (0, 0.6), (0, 0.4), (0, 0.4), (0, 0.4), (0, 0.4)]
are_ticks = [[0, 0.2, 0.4, 0.6]] * 3 + [[0, 0.1, 0.2, 0.3, 0.4]] * 4

columns = [(cc_step2, cc_step3, cc_ranges, cc_ticks),
           (rmse_step2, rmse_step3, rmse_ranges, rmse_ticks),
           (are_step2, are_step3, are_ranges, are_ticks)]

W, H = 1279, 572
col_px = [(48, 425), (471, 848), (893, 1264)]
row_px = [(29, 79), (100, 153), (178, 227), (251, 300), (325, 374), (398, 448), (472, 521)]

tickfont = dict(family=FONT, size=12, color="black", weight="bold")
fig = go.Figure()
layout = {}
n = 0
for r in range(7):
    for c in range(3):
        n += 1
        sfx = "" if n == 1 else str(n)
        s2, s3, rngs, tks = columns[c]
        fig.add_trace(go.Scatter(x=x, y=s2[r], xaxis="x" + sfx, yaxis="y" + sfx, mode="lines",
                                 line=dict(color="#1a1aff", width=1.2, dash="1.5px,2px"),
                                 name=legend_step2, legendgroup="s2", showlegend=(n == 1)))
        fig.add_trace(go.Scatter(x=x, y=s3[r], xaxis="x" + sfx, yaxis="y" + sfx, mode="lines",
                                 line=dict(color="#ff0000", width=2),
                                 name=legend_step3, legendgroup="s3", showlegend=(n == 1)))
        x0, x1 = col_px[c]
        y0, y1 = row_px[r]
        common = dict(showline=True, linecolor="black", linewidth=1, mirror="ticks",
                      ticks="inside", ticklen=3, tickcolor="black", showgrid=False,
                      zeroline=False, tickfont=tickfont)
        layout["xaxis" + sfx] = dict(domain=[x0 / W, x1 / W], range=[0, 102], anchor="y" + sfx,
                                     tickvals=x_ticks, **common)
        layout["yaxis" + sfx] = dict(domain=[1 - y1 / H, 1 - y0 / H], range=list(rngs[r]),
                                     anchor="x" + sfx, tickvals=tks[r], **common)

annotations = []
for c, t in enumerate(column_titles):
    x0, x1 = col_px[c]
    annotations.append(dict(text=t, x=(x0 + x1) / 2 / W, y=1 - 15 / H, xref="paper", yref="paper",
                            showarrow=False, xanchor="center", yanchor="middle",
                            font=dict(family=FONT, size=17, color="black", weight="bold")))
for r, b in enumerate(band_labels):
    y0, y1 = row_px[r]
    annotations.append(dict(text=b, x=16.5 / W, y=1 - (y0 + y1) / 2 / H, xref="paper", yref="paper",
                            showarrow=False, xanchor="center", yanchor="middle", textangle=-90,
                            font=dict(family=FONT, size=17, color="black", weight="bold")))

fig.update_layout(**layout)
fig.update_layout(
    width=W, height=H, margin=dict(l=0, r=0, t=0, b=0),
    paper_bgcolor="white", plot_bgcolor="white",
    annotations=annotations,
    showlegend=True,
    legend=dict(orientation="h", x=310 / W, y=1 - 557 / H, xanchor="left", yanchor="middle",
                font=dict(family=FONT, size=19.6, color="black", weight="bold"),
                bgcolor="rgba(0,0,0,0)", itemwidth=35, traceorder="normal",
                entrywidth=352, entrywidthmode="pixels"),
)
fig.write_html("out.html")
